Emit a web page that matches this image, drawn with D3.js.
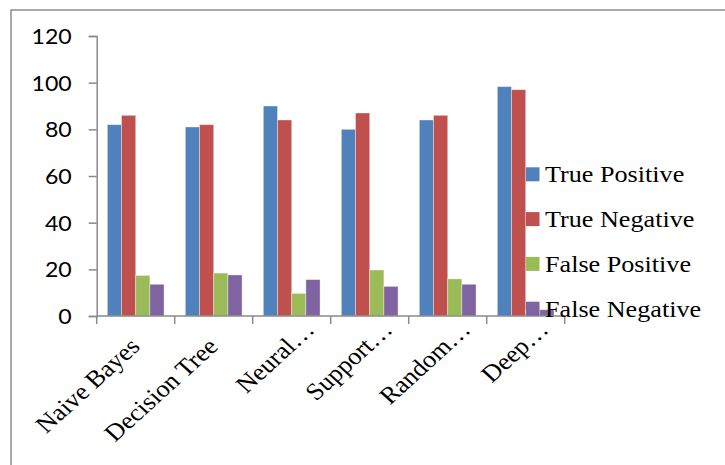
<!DOCTYPE html>
<html>
<head>
<meta charset="utf-8">
<script src="https://cdn.jsdelivr.net/npm/d3@7"></script>
<style>
  html, body { margin: 0; padding: 0; background: #fff; }
  svg { display: block; }
  .serif { font-family: "Liberation Serif", Tinos, "Times New Roman", Times, serif; }
  .sans { font-family: Lato, "Open Sans", sans-serif; }
</style>
</head>
<body>
<div id="chart"></div>
<script>
// Classifier results: counts per outcome type
const categories = ["Naive Bayes", "Decision Tree", "Neural…", "Support…", "Random…", "Deep…"];
const seriesNames = ["True Positive", "True Negative", "False Positive", "False Negative"];
const truePositive  = [82, 81, 90, 80, 84, 98.3];
const trueNegative  = [86, 82, 84, 87, 86, 97];
const falsePositive = [17.4, 18.4, 9.7, 19.7, 15.9, 2.5];
const falseNegative = [13.6, 17.6, 15.6, 12.7, 13.6, 2.7];
const yTicks = [0, 20, 40, 60, 80, 100, 120];

const seriesValues = [truePositive, trueNegative, falsePositive, falseNegative];
const colors = ["#4F81BD", "#C0504D", "#9BBB59", "#8064A2"];

const W = 725, H = 465;
const plot = { left: 96.7, right: 564.7, top: 36, bottom: 316 };
const SX = 1.1; // horizontal text stretch

const svg = d3.select("#chart").append("svg")
  .attr("width", W).attr("height", H);

// chart frame
svg.append("rect")
  .attr("x", 11).attr("y", 10)
  .attr("width", W + 20).attr("height", H + 20)
  .attr("fill", "none").attr("stroke", "#8f8f8f").attr("stroke-width", 1.5);

const x0 = d3.scaleBand().domain(categories).range([plot.left, plot.right]).padding(0);
const x1 = d3.scaleBand().domain(seriesNames).range([0, x0.bandwidth()])
  .paddingInner(0).paddingOuter(0.75);
const y = d3.scaleLinear().domain([0, 120]).range([plot.bottom, plot.top]);

const axisColor = "#8a8a8a";

// bars
const rows = categories.map((c, i) => ({
  cat: c,
  vals: seriesNames.map((s, j) => ({ s, v: seriesValues[j][i], color: colors[j] }))
}));

const groups = svg.append("g").selectAll("g").data(rows).join("g")
  .attr("transform", d => `translate(${x0(d.cat)},0)`);
groups.selectAll("rect").data(d => d.vals).join("rect")
  .attr("x", d => x1(d.s))
  .attr("y", d => y(d.v))
  .attr("width", x1.bandwidth())
  .attr("height", d => y(0) - y(d.v))
  .attr("fill", d => d.color)
  .attr("stroke", "rgba(255,255,255,0.45)")
  .attr("stroke-width", 0.8);

// y axis
const yAxis = svg.append("g").attr("transform", `translate(${plot.left},0)`)
  .call(d3.axisLeft(y).tickValues(yTicks).tickSize(8).tickPadding(17).tickFormat(d3.format("d")));
yAxis.attr("font-family", null).attr("font-size", null);
yAxis.select(".domain").attr("stroke", axisColor).attr("stroke-width", 1.5);
yAxis.selectAll(".tick line").attr("stroke", axisColor).attr("stroke-width", 1.5);
yAxis.selectAll(".tick text")
  .attr("class", "sans")
  .attr("font-size", 21)
  .attr("fill", "#000")
  .attr("dy", "0.36em")
  .each(function () {
    const t = d3.select(this);
    const xx = +t.attr("x");
    t.attr("x", null).attr("transform", `translate(${xx},0) scale(${SX},1)`);
  });

// x axis: ticks at category boundaries
const xAxisG = svg.append("g");
xAxisG.append("line")
  .attr("x1", plot.left).attr("x2", plot.right)
  .attr("y1", y(0)).attr("y2", y(0))
  .attr("stroke", axisColor).attr("stroke-width", 1.5);
const boundaries = categories.map(c => x0(c)).concat([x0(categories[categories.length - 1]) + x0.bandwidth()]);
xAxisG.selectAll("line.tk").data(boundaries).join("line")
  .attr("class", "tk")
  .attr("x1", d => d).attr("x2", d => d)
  .attr("y1", y(0)).attr("y2", y(0) + 8)
  .attr("stroke", axisColor).attr("stroke-width", 1.5);

// rotated category labels; a trailing ellipsis overflows past the anchor
const labels = xAxisG.selectAll("g.lbl").data(categories).join("g")
  .attr("class", "lbl")
  .attr("transform", c => `translate(${x0(c) + x0.bandwidth() / 2 + 5.5},348) scale(${SX},1) rotate(-45)`);
labels.append("text")
  .attr("class", "serif")
  .attr("text-anchor", "end")
  .attr("font-size", 24)
  .attr("fill", "#000")
  .text(c => c.replace("…", ""));
labels.filter(c => c.endsWith("…")).append("text")
  .attr("class", "serif")
  .attr("text-anchor", "start")
  .attr("font-size", 24)
  .attr("fill", "#000")
  .text("…");

// legend
const legend = svg.append("g");
const lg = legend.selectAll("g").data(seriesNames).join("g")
  .attr("transform", (d, i) => `translate(526,${174.3 + i * 44.8})`);
lg.append("rect")
  .attr("x", 0).attr("y", -7).attr("width", 13.5).attr("height", 14)
  .attr("fill", (d, i) => colors[i]);
lg.append("text")
  .attr("class", "serif")
  .attr("transform", `translate(19,8) scale(1.09,1)`)
  .attr("font-size", 24)
  .attr("fill", "#000")
  .text(d => d);
</script>
</body>
</html>
